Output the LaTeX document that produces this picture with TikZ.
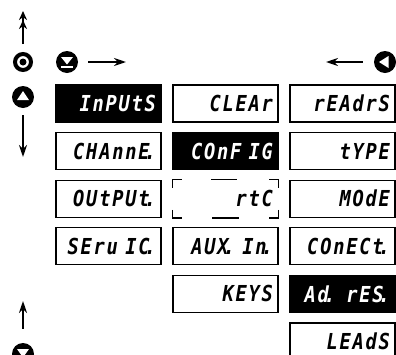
\documentclass[tikz,border=0pt]{standalone}
\usepackage{fontspec}
\usetikzlibrary{arrows.meta}
\newfontfamily\lcd[LetterSpace=8,FakeStretch=0.85]{DejaVu Sans Mono}
\newcommand\segdot{\kern-0.22em.}
\tikzset{
    lcdbox/.style={draw, line width=1.3pt, minimum height=37pt, text width=95pt,
        inner xsep=5pt, align=right, font=\lcd\bfseries\itshape\fontsize{22}{22}\selectfont},
    lcdon/.style={lcdbox, fill=black, text=white},
    lcdopen/.style={lcdbox, draw=none},
    keyicon/.style={circle, fill=black, minimum size=22pt, inner sep=0pt},
    menuarrow/.style={line width=2.6pt, -{Stealth[length=12pt,width=8pt]}},
}
\begin{document}
\begin{tikzpicture}[x=1pt,y=-1pt]
        \useasboundingbox (0,0) rectangle (396,354);
        %% menu boxes
        \foreach \nm/\st/\c/\r/\txt in {inputs/lcdon/0/0/InPUtS, channel/lcdbox/0/1/CHAnnE\segdot,
            output/lcdbox/0/2/OUtPUt\segdot, service/lcdbox/0/3/SEru IC\segdot,
            clear/lcdbox/1/0/CLEAr, config/lcdon/1/1/COnF IG, rtc/lcdopen/1/2/rtC\hspace*{6pt},
            auxin/lcdbox/1/3/AUX\segdot{} In\segdot, keys/lcdbox/1/4/KEYS,
            readrs/lcdbox/2/0/rEAdrS, type/lcdbox/2/1/tYPE, mode/lcdbox/2/2/MOdE,
            conect/lcdbox/2/3/COnECt\segdot, adres/lcdon/2/4/Ad\segdot{} rES\segdot,
            leads/lcdbox/2/5/LEAdS}
            \node[\st] (\nm) at ({108.5+117*\c},{103.5+47.6*\r}) {\txt};
        %% open frame of rtC
        \draw[line width=1.3pt] ([yshift=-8pt]rtc.north west) -- (rtc.north west) -- ([xshift=10pt]rtc.north west);
        \draw[line width=1.3pt] ([xshift=39pt]rtc.north west) -- ([xshift=65pt]rtc.north west);
        \draw[line width=1.3pt] ([yshift=-8pt]rtc.north east) -- (rtc.north east) -- ([xshift=-10pt]rtc.north east);
        \draw[line width=1.3pt] ([yshift=8pt]rtc.south west) -- (rtc.south west) -- ([xshift=10pt]rtc.south west);
        \draw[line width=1.3pt] ([xshift=40pt]rtc.south west) -- ([xshift=67pt]rtc.south west);
        \draw[line width=1.3pt] ([yshift=8pt]rtc.south east) -- (rtc.south east) -- ([xshift=-10pt]rtc.south east);
        %% keys
        \node[circle, draw, line width=4pt, minimum size=16pt, inner sep=0pt] (ring) at (23,62) {};
        \fill (ring.center) circle (3.5pt);
        \node[keyicon] (upkey) at (23,97) {};
        \fill[white] ([shift={(-6pt,-3pt)}]upkey.center) -- ++(12pt,0pt) -- ++(-6pt,9pt) -- cycle;
        \node[keyicon] (downkey) at (67,62) {};
        \fill[white] ([shift={(-6pt,5pt)}]downkey.center) -- ++(12pt,0pt) -- ++(-6pt,-7.5pt) -- cycle;
        \fill[white] ([shift={(-6pt,-4pt)}]downkey.center) rectangle ++(12pt,-2.2pt);
        \node[keyicon] (leftkey) at (385,62) {};
        \fill[white] ([shift={(-6pt,0pt)}]leftkey.center) -- ++(9.5pt,6pt) -- ++(0pt,-12pt) -- cycle;
        \node[keyicon] (endkey) at (23,354) {};
        \fill[white] ([shift={(-6pt,5pt)}]endkey.center) -- ++(12pt,0pt) -- ++(-6pt,-8.5pt) -- cycle;
        %% movements
        \coordinate (topend) at (23,11);
        \coordinate (downend) at (23,157);
        \coordinate (rightend) at (126,62);
        \coordinate (leftend) at (326,62);
        \coordinate (backend) at (23,301);
        \draw[menuarrow,-{Stealth[length=9pt,width=8pt] Stealth[length=9pt,width=8pt]}] ([yshift=8pt]ring.north) -- (topend);
        \draw[menuarrow] ([yshift=-7pt]upkey.south) -- (downend);
        \draw[menuarrow] ([xshift=10pt]downkey.east) -- (rightend);
        \draw[menuarrow] ([xshift=-11pt]leftkey.west) -- (leftend);
        \draw[menuarrow] ([yshift=14pt]endkey.north) -- (backend);
    \end{tikzpicture}
\end{document}
